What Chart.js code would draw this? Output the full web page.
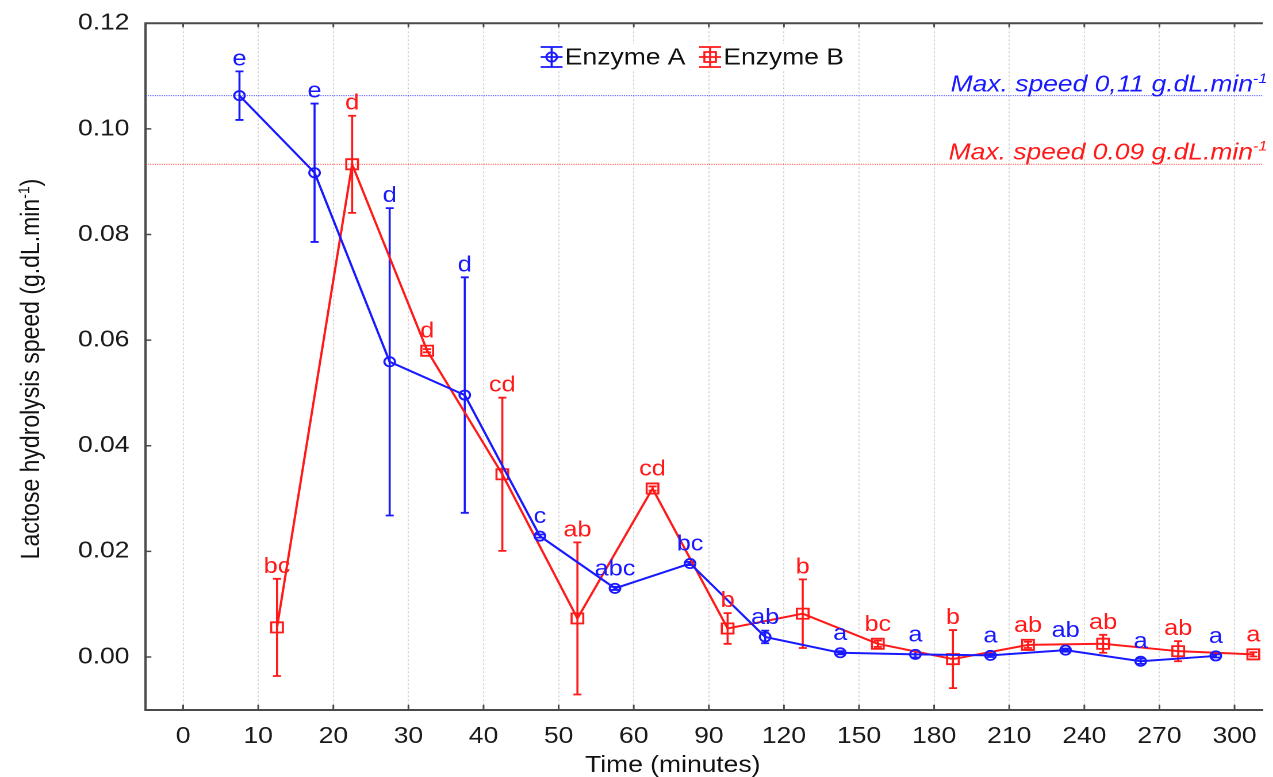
<!DOCTYPE html>
<html lang="en">
<head>
  <meta charset="UTF-8" />
  <title>Lactose hydrolysis speed – Enzyme A vs Enzyme B</title>
  <script src="https://cdn.jsdelivr.net/npm/chart.js"></script>
  <style>
    html, body { margin: 0; padding: 0; background: #fff; overflow: hidden; }
    #wrap { width: 1273px; height: 777px; overflow: hidden; }
    /* the source figure is stretched sideways, so the canvas is too */
    #chart { transform: scaleX(1.15); transform-origin: 0 0; }
  </style>
</head>
<body>
  <div id="wrap"><canvas id="chart" width="1107" height="777"></canvas></div>

  <script>
    // categories on the time axis
    const timeLabels = ['0', '10', '20', '30', '40', '50', '60', '90', '120', '150', '180', '210', '240', '270', '300'];
    const yTicks = [0, 0.02, 0.04, 0.06, 0.08, 0.10, 0.12];

    // Enzyme A: mean speed, +/- error, letters
    const speedA = [0.1063, 0.0917, 0.0559, 0.0496, 0.0229, 0.0130, 0.0177, 0.0038, 0.0008, 0.0005, 0.0003, 0.0013, -0.0008, 0.0002];
    const errA = [0.0046, 0.0131, 0.0291, 0.0223, 0.0003, 0.0003, 0.0003, 0.0012, 0.0003, 0.0006, 0.0003, 0.0003, 0.0005, 0.0003];
    const lettersA = ['e', 'e', 'd', 'd', 'c', 'abc', 'bc', 'ab', 'a', 'a', 'a', 'ab', 'a', 'a'];

    // Enzyme B
    const speedB = [0.0056, 0.0933, 0.0580, 0.0346, 0.0073, 0.0319, 0.0054, 0.0082, 0.0025, -0.0004, 0.0023, 0.0025, 0.0011, 0.0005];
    const errB = [0.0092, 0.0092, 0.0003, 0.0145, 0.0144, 0.0004, 0.0029, 0.0065, 0.0006, 0.0055, 0.0006, 0.0017, 0.0019, 0.0004];
    const lettersB = ['bc', 'd', 'd', 'cd', 'ab', 'cd', 'b', 'b', 'bc', 'b', 'ab', 'ab', 'ab', 'a'];

    // where the samples sit relative to the tick index
    const offsetA = 0.75;
    const offsetB = 1.25;

    const maxTexts = ['Max. speed 0,11 g.dL.min', 'Max. speed 0.09 g.dL.min'];

    const FONT = "'Liberation Sans', Arial, sans-serif";
    const BLUE = 'rgb(25,25,255)';
    const RED = 'rgb(255,25,25)';
    const AXIS = '#4a4a4a';

    Chart.defaults.font.family = FONT;

    const toPoints = (vals, offset) => vals.map((v, i) => ({ x: i + offset, y: v }));

    // text followed by a superscript (and optional tail)
    function textWithSup(ctx, main, sup, tail, x, y, align, size, style) {
      const big = `${style}${size}px ${FONT}`;
      const small = `${style}${Math.round(size * 0.62)}px ${FONT}`;
      ctx.font = big;
      const w1 = ctx.measureText(main).width;
      const w3 = tail ? ctx.measureText(tail).width : 0;
      ctx.font = small;
      const w2 = ctx.measureText(sup).width;
      const total = w1 + w2 + w3;
      const x0 = align === 'right' ? x - total : align === 'center' ? x - total / 2 : x;
      ctx.textAlign = 'left';
      ctx.textBaseline = 'alphabetic';
      ctx.font = big;
      ctx.fillText(main, x0, y);
      ctx.font = small;
      ctx.fillText(sup, x0 + w1, y - size * 0.38);
      if (tail) {
        ctx.font = big;
        ctx.fillText(tail, x0 + w1 + w2, y);
      }
    }

    function drawMarker(ctx, style, cx, cy, color) {
      ctx.strokeStyle = color;
      ctx.lineWidth = 1.8;
      ctx.beginPath();
      if (style === 'rect') ctx.rect(cx - 5, cy - 5, 10, 10);
      else ctx.arc(cx, cy, 4.6, 0, Math.PI * 2);
      ctx.stroke();
    }

    const decor = {
      id: 'decor',
      beforeDatasetsDraw(chart) {
        const { ctx, chartArea: a, scales: { x, y } } = chart;
        ctx.save();

        // dotted lines at each series maximum
        [[speedA, BLUE], [speedB, RED]].forEach(([vals, color]) => {
          const py = y.getPixelForValue(Math.max(...vals));
          ctx.strokeStyle = color;
          ctx.globalAlpha = 0.75;
          ctx.lineWidth = 1;
          ctx.setLineDash([1, 1]);
          ctx.beginPath();
          ctx.moveTo(a.left, py);
          ctx.lineTo(a.right, py);
          ctx.stroke();
        });
        ctx.globalAlpha = 1;
        ctx.setLineDash([]);

        // error bars
        chart.data.datasets.forEach(ds => {
          ctx.strokeStyle = ds.borderColor;
          ctx.lineWidth = 1.8;
          ds.data.forEach((p, i) => {
            const px = x.getPixelForValue(p.x);
            const top = y.getPixelForValue(p.y + ds.errors[i]);
            const bot = y.getPixelForValue(p.y - ds.errors[i]);
            ctx.beginPath();
            ctx.moveTo(px, top);
            ctx.lineTo(px, bot);
            ctx.moveTo(px - 3.5, top);
            ctx.lineTo(px + 3.5, top);
            ctx.moveTo(px - 3.5, bot);
            ctx.lineTo(px + 3.5, bot);
            ctx.stroke();
          });
        });
        ctx.restore();
      },

      afterDraw(chart) {
        const { ctx, chartArea: a, scales: { x, y } } = chart;
        ctx.save();

        // top frame and inward tick marks
        ctx.strokeStyle = AXIS;
        ctx.lineWidth = 2;
        ctx.beginPath();
        ctx.moveTo(a.left - 1, a.top);
        ctx.lineTo(a.right, a.top);
        ctx.stroke();
        ctx.lineWidth = 1.5;
        ctx.beginPath();
        x.ticks.forEach(t => {
          const px = x.getPixelForValue(t.value);
          ctx.moveTo(px, a.bottom);
          ctx.lineTo(px, a.bottom - 5);
          ctx.moveTo(px, a.top);
          ctx.lineTo(px, a.top + 4);
        });
        y.ticks.forEach(t => {
          const py = y.getPixelForValue(t.value);
          ctx.moveTo(a.left, py);
          ctx.lineTo(a.left + 5, py);
        });
        ctx.stroke();

        // max speed notes
        ctx.fillStyle = BLUE;
        textWithSup(ctx, maxTexts[0], '-1', '', 1102, y.getPixelForValue(Math.max(...speedA)) - 4, 'right', 23, 'italic ');
        ctx.fillStyle = RED;
        textWithSup(ctx, maxTexts[1], '-1', '', 1102, y.getPixelForValue(Math.max(...speedB)) - 5, 'right', 23, 'italic ');

        // significance letters above each point
        ctx.font = `22px ${FONT}`;
        ctx.textAlign = 'center';
        ctx.textBaseline = 'alphabetic';
        chart.data.datasets.forEach(ds => {
          ctx.fillStyle = ds.borderColor;
          ds.data.forEach((p, i) => {
            const px = x.getPixelForValue(p.x);
            const base = Math.min(y.getPixelForValue(p.y + ds.errors[i]) - 6, y.getPixelForValue(p.y) - 13);
            ctx.fillText(ds.letters[i], px, base);
          });
        });

        // legend
        ctx.font = `23px ${FONT}`;
        const iconW = 19, gap = 2, itemGap = 12, ly = 57;
        const items = chart.data.datasets.map(ds => ({ ds, w: ctx.measureText(ds.label).width }));
        const total = items.reduce((s, it) => s + iconW + gap + it.w, 0) + itemGap;
        let lx = 602 - total / 2;
        ctx.fillStyle = '#fff';
        ctx.fillRect(lx - 2, ly - 13, total + 4, 27);
        items.forEach(it => {
          const cx = lx + iconW / 2;
          const color = it.ds.borderColor;
          ctx.strokeStyle = color;
          ctx.lineWidth = 1.8;
          ctx.beginPath();
          ctx.moveTo(lx, ly);
          ctx.lineTo(lx + iconW, ly);
          ctx.moveTo(cx, ly - 10);
          ctx.lineTo(cx, ly + 10);
          ctx.moveTo(lx, ly - 10);
          ctx.lineTo(lx + iconW, ly - 10);
          ctx.moveTo(lx, ly + 10);
          ctx.lineTo(lx + iconW, ly + 10);
          ctx.stroke();
          drawMarker(ctx, it.ds.pointStyle, cx, ly, color);
          ctx.fillStyle = '#111';
          ctx.textAlign = 'left';
          ctx.textBaseline = 'alphabetic';
          ctx.fillText(it.ds.label, lx + iconW + gap, ly + 7.5);
          lx += iconW + gap + it.w + itemGap;
        });

        // axis titles
        ctx.fillStyle = '#111';
        ctx.font = `23px ${FONT}`;
        ctx.textAlign = 'center';
        ctx.fillText('Time (minutes)', 585, 772);

        ctx.translate(26, 369);
        ctx.rotate(-Math.PI / 2);
        textWithSup(ctx, 'Lactose hydrolysis speed (g.dL.min', '-1', ')', 0, 8, 'center', 23, '');

        ctx.restore();
      }
    };

    new Chart(document.getElementById('chart'), {
      type: 'line',
      data: {
        datasets: [
          {
            label: 'Enzyme A',
            data: toPoints(speedA, offsetA),
            errors: errA,
            letters: lettersA,
            borderColor: BLUE,
            borderWidth: 2,
            pointStyle: 'circle',
            pointRadius: 4.6,
            pointBorderWidth: 1.8,
            pointBorderColor: BLUE,
            pointBackgroundColor: 'rgba(0,0,0,0)',
            tension: 0
          },
          {
            label: 'Enzyme B',
            data: toPoints(speedB, offsetB),
            errors: errB,
            letters: lettersB,
            borderColor: RED,
            borderWidth: 2,
            pointStyle: 'rect',
            pointRadius: 7.2,
            pointBorderWidth: 1.8,
            pointBorderColor: RED,
            pointBackgroundColor: 'rgba(0,0,0,0)',
            tension: 0
          }
        ]
      },
      options: {
        responsive: false,
        devicePixelRatio: 2,
        animation: false,
        layout: { padding: { top: 23.3, left: 0, right: 0, bottom: 0 } },
        plugins: {
          legend: { display: false },
          tooltip: { enabled: false }
        },
        scales: {
          x: {
            type: 'linear',
            min: -0.5,
            max: 14.375,
            afterBuildTicks: scale => { scale.ticks = timeLabels.map((_, i) => ({ value: i })); },
            afterFit: scale => { scale.height = 67.2; },
            ticks: {
              callback: v => timeLabels[v],
              color: '#1a1a1a',
              font: { size: 23 },
              padding: 13,
              maxRotation: 0,
              autoSkip: false
            },
            grid: { color: '#d2d2d2', lineWidth: 1, drawTicks: false },
            border: { display: true, color: AXIS, width: 2, dash: [2, 2] }
          },
          y: {
            min: -0.01,
            max: 0.12,
            afterBuildTicks: scale => { scale.ticks = yTicks.map(v => ({ value: v })); },
            afterFit: scale => {
              scale.width = 126.6;
              // labels may stick out; the layout padding already leaves room
              scale.paddingTop = 0;
              scale.paddingBottom = 0;
            },
            ticks: {
              callback: v => v.toFixed(2),
              color: '#1a1a1a',
              font: { size: 23 },
              padding: 14
            },
            grid: { display: false, drawTicks: false },
            border: { display: true, color: AXIS, width: 2 }
          }
        }
      },
      plugins: [decor]
    });
  </script>
</body>
</html>
